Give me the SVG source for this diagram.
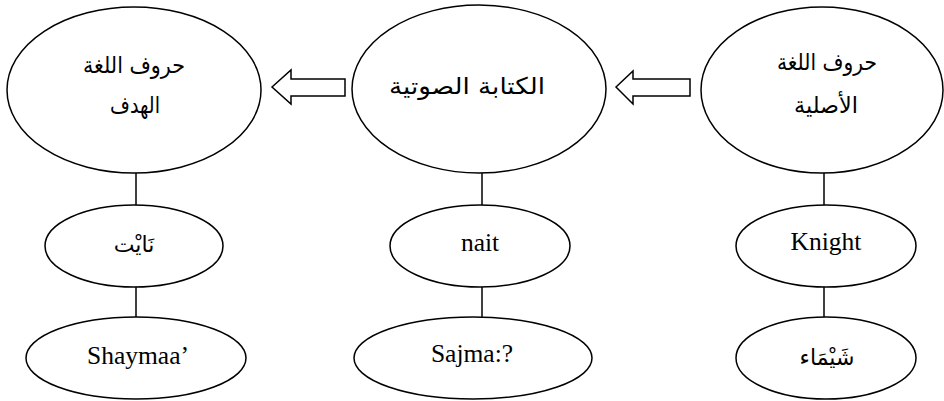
<svg xmlns="http://www.w3.org/2000/svg" width="944" height="401" viewBox="0 0 944 401">
<style>
.shape{fill:#fff;stroke:#000;stroke-width:1.5}
.line{stroke:#000;stroke-width:1.5;fill:none}
.ar{font-family:"DejaVu Sans",sans-serif;font-size:23px;fill:#000;text-anchor:middle}
.en{font-family:"Liberation Serif","Times New Roman",serif;font-size:25.5px;fill:#000;text-anchor:middle}
.ars{font-family:"Liberation Serif","DejaVu Sans",serif;font-size:22px;fill:#000;text-anchor:middle}
</style>
<rect width="944" height="401" fill="#fff"/>
<g id="connectors">
<line class="line" x1="136" y1="173" x2="136" y2="205"/>
<line class="line" x1="136" y1="287" x2="136" y2="317"/>
<line class="line" x1="482" y1="173" x2="482" y2="205"/>
<line class="line" x1="482" y1="287" x2="482" y2="317"/>
<line class="line" x1="824" y1="173" x2="824" y2="205"/>
<line class="line" x1="824" y1="287" x2="824" y2="317"/>
<polygon class="shape" points="272,87 291,70 291,79 345,79 345,96 291,96 291,104"/>
<polygon class="shape" points="616,87 633,71 633,79 690,79 690,96 633,96 633,104"/>
</g>
<g id="target-letters">
<ellipse class="shape" cx="134" cy="90" rx="127" ry="83"/>
<text class="ar" x="134" y="73" direction="rtl" textLength="102" lengthAdjust="spacingAndGlyphs">حروف اللغة</text>
<text class="ar" x="135" y="113" direction="rtl" textLength="50" lengthAdjust="spacingAndGlyphs">الهدف</text>
</g>
<g id="phonetic">
<ellipse class="shape" cx="479" cy="89" rx="127" ry="84"/>
<text class="ar" x="467" y="94" direction="rtl" textLength="156" lengthAdjust="spacingAndGlyphs">الكتابة الصوتية</text>
</g>
<g id="source-letters">
<ellipse class="shape" cx="822" cy="90" rx="121" ry="83"/>
<text class="ar" x="827" y="70" direction="rtl" textLength="100" lengthAdjust="spacingAndGlyphs">حروف اللغة</text>
<text class="ar" x="826" y="113" direction="rtl" textLength="64" lengthAdjust="spacingAndGlyphs">الأصلية</text>
</g>
<g id="nait-ar">
<ellipse class="shape" cx="134" cy="246" rx="89" ry="41"/>
<text class="ars" x="134" y="252" direction="rtl">نَايْت</text>
</g>
<g id="nait">
<ellipse class="shape" cx="480" cy="246" rx="90" ry="41"/>
<text class="en" x="480" y="251">nait</text>
</g>
<g id="knight">
<ellipse class="shape" cx="826" cy="246" rx="90" ry="41"/>
<text class="en" x="826" y="250">Knight</text>
</g>
<g id="shaymaa-en">
<ellipse class="shape" cx="136" cy="358" rx="110" ry="41"/>
<text class="en" x="138" y="364">Shaymaa’</text>
</g>
<g id="sajma">
<ellipse class="shape" cx="473" cy="358" rx="119" ry="41"/>
<text class="en" x="472" y="362">Sajma:?</text>
</g>
<g id="shaymaa-ar">
<ellipse class="shape" cx="826" cy="358" rx="90" ry="41"/>
<text class="ars" x="827" y="365" direction="rtl">شَيْمَاء</text>
</g>
</svg>
